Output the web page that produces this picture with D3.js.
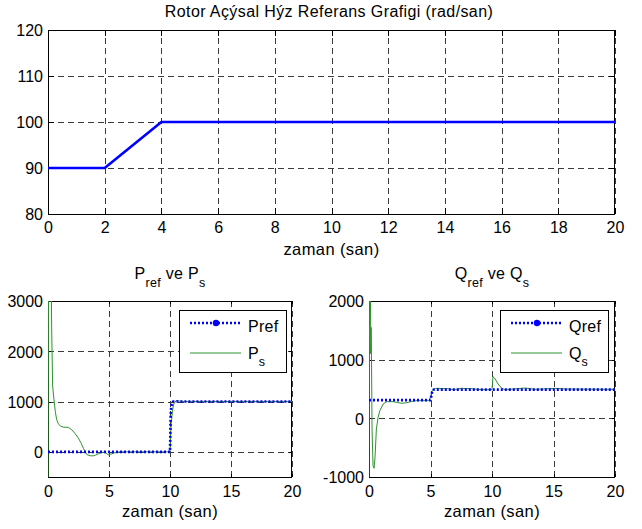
<!DOCTYPE html>
<html>
<head>
<meta charset="utf-8">
<script src="https://cdn.jsdelivr.net/npm/d3@7"></script>
<style>
  html, body { margin: 0; padding: 0; background: #fff; }
  svg text { font-family: Arial, "Liberation Sans", Helvetica, sans-serif; fill: #000; }
</style>
</head>
<body>
<svg id="fig" width="642" height="529"></svg>
<script>
// Rotor angular speed reference (rad/san)
const speedTime = [0, 2, 4, 20];
const speedValue = [90, 90, 100, 100];

// Active power: reference and stator response
const prefTime = [0, 10, 10.05, 10.1, 10.25, 20];
const prefValue = [0, 0, 700, 900, 1000, 1000];
const psTime = [0, 0.04, 0.28, 0.3, 0.38, 0.5, 0.6, 0.71, 0.85, 1.04, 1.3, 1.67, 1.94, 2.2, 2.49, 2.7, 2.9, 3.05, 3.22, 3.5, 3.71, 3.9, 4.12, 4.3, 4.53, 4.75, 4.94, 5.1, 5.35, 5.6, 5.9, 10, 10.05, 10.1, 10.2, 10.3, 10.5, 10.8, 11.2, 20];
const psValue = [-500, 3000, 3000, 2480, 1310, 1010, 800, 640, 560, 508, 490, 488, 440, 370, 273, 180, 72, 0, -60, -78, -80, -65, -40, -20, -8, -20, -60, -50, -28, -10, 0, 0, 300, 560, 810, 950, 1020, 1010, 1000, 1000];

// Reactive power: reference and stator response
const qrefTime = [0, 5, 5.15, 5.25, 20];
const qrefValue = [310, 310, 470, 490, 490];
const qsTime = [0, 0.05, 0.12, 0.14, 0.17, 0.2, 0.25, 0.33, 0.41, 0.49, 0.6, 0.74, 0.88, 1.15, 1.43, 1.98, 2.3, 2.66, 3.08, 3.5, 3.9, 4.86, 5.0, 5.14, 5.4, 6.37, 6.9, 7.5, 8.3, 9.1, 10.0, 10.08, 10.2, 10.5, 10.77, 11.04, 12.1, 12.7, 13.5, 14.6, 15.2, 16, 20];
const qsValue = [-1000, 2000, 2000, 1100, 1550, 1100, -210, -807, -852, -665, -182, 17, 130, 244, 284, 284, 270, 256, 267, 290, 301, 301, 358, 472, 511, 506, 489, 511, 506, 489, 489, 710, 688, 585, 517, 489, 506, 517, 494, 506, 511, 500, 494];

// Tick labels
const speedXTicks = [0, 2, 4, 6, 8, 10, 12, 14, 16, 18, 20];
const speedYTicks = [80, 90, 100, 110, 120];
const powerXTicks = [0, 5, 10, 15, 20];
const pYTicks = [0, 1000, 2000, 3000];
const qYTicks = [-1000, 0, 1000, 2000];

const xLabel = "zaman (san)";
const topTitle = "Rotor Açýsal Hýz Referans Grafigi (rad/san)";

const svg = d3.select("#fig");
svg.append("rect").attr("width", 642).attr("height", 529).attr("fill", "#fff");

const zip = (t, v) => t.map((d, i) => [d, v[i]]);
const plain = d => String(d);

let clipId = 0;
function panel(o) {
  const x = d3.scaleLinear().domain(o.xDomain).range([o.left, o.right]);
  const y = d3.scaleLinear().domain(o.yDomain).range([o.bottom, o.top]);
  const g = svg.append("g");
  const id = "clip" + (clipId++);
  svg.append("clipPath").attr("id", id).append("rect")
    .attr("x", o.left).attr("y", o.top)
    .attr("width", o.right - o.left).attr("height", o.bottom - o.top);

  // dashed grid
  const grid = g.append("g").attr("stroke", "#3a3a3a").attr("stroke-width", 1)
    .attr("stroke-dasharray", "6,4").attr("shape-rendering", "crispEdges");
  o.xTicks.forEach(t => grid.append("line")
    .attr("x1", Math.round(x(t)) + 0.5).attr("x2", Math.round(x(t)) + 0.5)
    .attr("y1", o.bottom).attr("y2", o.top));
  o.yTicks.forEach(t => grid.append("line")
    .attr("y1", Math.round(y(t)) + 0.5).attr("y2", Math.round(y(t)) + 0.5)
    .attr("x1", o.left).attr("x2", o.right));

  // axes with inward ticks on all four sides
  const tl = o.tickLen;
  const ax = d3.axisBottom(x).tickValues(o.xTicks).tickSize(tl).tickFormat(plain);
  const ay = d3.axisLeft(y).tickValues(o.yTicks).tickSize(tl).tickFormat(plain);
  const fs = o.tickFont;
  const gx = g.append("g").attr("transform", `translate(0,${o.bottom})`).call(ax);
  gx.selectAll(".tick line").attr("y2", -tl);
  gx.selectAll("text").attr("dy", null).attr("y", o.xLabelOffset).style("font-size", fs + "px")
    .attr("font-family", null);
  const gy = g.append("g").attr("transform", `translate(${o.left},0)`).call(ay);
  gy.selectAll(".tick line").attr("x2", tl);
  gy.selectAll("text").attr("x", -5).attr("dy", "0.36em").style("font-size", fs + "px")
    .attr("font-family", null);
  const gx2 = g.append("g").attr("transform", `translate(0,${o.top})`)
    .call(d3.axisTop(x).tickValues(o.xTicks).tickSize(-tl).tickFormat(""));
  const gy2 = g.append("g").attr("transform", `translate(${o.right},0)`)
    .call(d3.axisRight(y).tickValues(o.yTicks).tickSize(-tl).tickFormat(""));
  [gx, gy, gx2, gy2].forEach(a => {
    a.select(".domain").remove();
    a.selectAll("line").attr("stroke", "#000").attr("shape-rendering", "crispEdges");
  });
  g.append("rect").attr("x", o.left + 0.5).attr("y", o.top + 0.5)
    .attr("width", o.right - o.left - 1).attr("height", o.bottom - o.top)
    .attr("fill", "none").attr("stroke", "#000").attr("stroke-width", 1.2)
    .attr("shape-rendering", "crispEdges");

  // x label
  g.append("text").attr("x", (o.left + o.right) / 2).attr("y", o.xTitleY)
    .attr("text-anchor", "middle").style("font-size", o.labelFont + "px")
    .style("letter-spacing", "0.4px").text(xLabel);

  const plot = g.append("g").attr("clip-path", `url(#${id})`);
  const line = d3.line().x(d => x(d[0])).y(d => y(d[1]));
  o.series.forEach(s => {
    plot.append("path").datum(s.data).attr("d", line)
      .attr("fill", "none").attr("stroke", s.color).attr("stroke-width", s.width)
      .attr("stroke-dasharray", s.dash || null).attr("stroke-linejoin", "round");
  });
  return { x, y, g };
}

// Top: rotor speed reference
panel({
  left: 48, right: 615, top: 30, bottom: 214,
  xDomain: [0, 20], yDomain: [80, 120],
  xTicks: speedXTicks, yTicks: speedYTicks,
  tickLen: 6, tickFont: 16, labelFont: 16.5, xLabelOffset: 19, xTitleY: 255,
  series: [{ data: zip(speedTime, speedValue), color: "#0000ff", width: 2.6 }]
});
svg.append("text").attr("x", 329).attr("y", 17).attr("text-anchor", "middle")
  .style("font-size", "16px").style("letter-spacing", "0.4px").text(topTitle);

// Subscripted title helper
function subTitle(cx, y, main1, sub1, mid, main2, sub2) {
  const t = svg.append("text").attr("x", cx).attr("y", y).attr("text-anchor", "middle")
    .style("font-size", "16px").style("letter-spacing", "0.3px");
  t.append("tspan").text(main1);
  t.append("tspan").attr("dy", 8).style("font-size", "12.5px").text(sub1);
  t.append("tspan").attr("dy", -8).text(mid);
  t.append("tspan").text(main2);
  t.append("tspan").attr("dy", 8).style("font-size", "12.5px").text(sub2);
}

function legend(x0, x1, y0, y1, refName, mainName, subName) {
  const g = svg.append("g");
  g.append("rect").attr("x", x0 + 0.5).attr("y", y0 + 0.5).attr("width", x1 - x0).attr("height", y1 - y0)
    .attr("fill", "#fff").attr("stroke", "#000").attr("stroke-width", 1).attr("shape-rendering", "crispEdges");
  const ly1 = y0 + 13, ly2 = y0 + 43;
  g.append("line").attr("x1", x0 + 11).attr("x2", x0 + 62).attr("y1", ly1).attr("y2", ly1)
    .attr("stroke", "#0000ff").attr("stroke-width", 2.6).attr("stroke-dasharray", "2,2");
  g.append("circle").attr("cx", x0 + 37).attr("cy", ly1).attr("r", 3.2).attr("fill", "#0000ff");
  g.append("text").attr("x", x0 + 69).attr("y", ly1 + 9).style("font-size", "16px")
    .style("letter-spacing", "0.3px").text(refName);
  g.append("line").attr("x1", x0 + 11).attr("x2", x0 + 62).attr("y1", ly2).attr("y2", ly2)
    .attr("stroke", "#2e922e").attr("stroke-width", 1);
  const t = g.append("text").attr("x", x0 + 69).attr("y", ly2 + 6).style("font-size", "16px");
  t.append("tspan").text(mainName);
  t.append("tspan").attr("dy", 7).style("font-size", "12.5px").text(subName);
}

// Bottom left: active power
panel({
  left: 48, right: 292, top: 301, bottom: 477,
  xDomain: [0, 20], yDomain: [-500, 3000],
  xTicks: powerXTicks, yTicks: pYTicks,
  tickLen: 3, tickFont: 16, labelFont: 16.5, xLabelOffset: 20, xTitleY: 517,
  series: [
    { data: zip(psTime, psValue), color: "#2e922e", width: 1 },
    { data: zip(prefTime, prefValue), color: "#0000ff", width: 2.6, dash: "2,2" }
  ]
});
subTitle(170, 279, "P", "ref", " ve P", "", "s");
legend(179, 286, 310, 372, "Pref", "P", "s");

// Bottom right: reactive power
panel({
  left: 369, right: 615, top: 301, bottom: 477,
  xDomain: [0, 20], yDomain: [-1000, 2000],
  xTicks: powerXTicks, yTicks: qYTicks,
  tickLen: 3, tickFont: 16, labelFont: 16.5, xLabelOffset: 20, xTitleY: 517,
  series: [
    { data: zip(qsTime, qsValue), color: "#2e922e", width: 1 },
    { data: zip(qrefTime, qrefValue), color: "#0000ff", width: 2.6, dash: "2,2" }
  ]
});
subTitle(492, 279, "Q", "ref", " ve Q", "", "s");
legend(500, 608, 310, 372, "Qref", "Q", "s");
</script>
</body>
</html>
